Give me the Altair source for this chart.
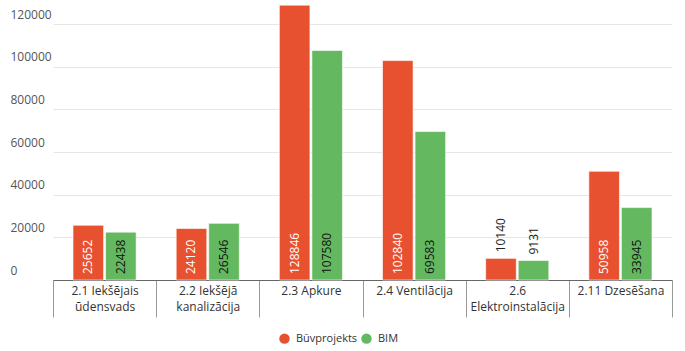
import altair as alt
import pandas as pd

categories = [
    "2.1 Iekšējais\nūdensvads",
    "2.2 Iekšējā\nkanalizācija",
    "2.3 Apkure",
    "2.4 Ventilācija",
    "2.6\nElektroinstalācija",
    "2.11 Dzesēšana",
]
series_names = ["Būvprojekts", "BIM"]
buvprojekts = [25652, 24120, 128846, 102840, 10140, 50958]
bim = [22438, 26546, 107580, 69583, 9131, 33945]
y_ticks = [0, 20000, 40000, 60000, 80000, 100000, 120000]
colors = ["#E8512F", "#64B960"]

rows = []
for c, a, b in zip(categories, buvprojekts, bim):
    rows.append({"cat": c, "series": series_names[0], "value": a})
    rows.append({"cat": c, "series": series_names[1], "value": b})
df = pd.DataFrame(rows)

FONT = "Open Sans"

x_enc = alt.X(
    "cat:N",
    sort=categories,
    title=None,
    scale=alt.Scale(range=[43, 662], paddingInner=0, paddingOuter=0),
    axis=alt.Axis(
        labelExpr="split(datum.label, '\\n')",
        labelAngle=0,
        labelFont=FONT,
        labelFontSize=12,
        labelColor="#333333",
        labelLineHeight=16,
        labelPadding=-32,
        labelBaseline="top",
        tickBand="extent",
        tickSize=37,
        tickColor="#999999",
        tickWidth=1,
        domainColor="#666666",
        domainWidth=1,
        grid=False,
    ),
)
xoff = alt.XOffset(
    "series:N", sort=series_names, scale=alt.Scale(paddingInner=0.06, paddingOuter=0.615)
)
y_scale = alt.Scale(domain=[0, 131250], nice=False)

bars = alt.Chart(df).mark_bar(stroke="white", strokeWidth=1, strokeOpacity=0.6).encode(
    x=x_enc,
    xOffset=xoff,
    y=alt.Y(
        "value:Q",
        scale=y_scale,
        title=None,
        axis=alt.Axis(
            values=y_ticks,
            format="d",
            domain=False,
            ticks=False,
            tickSize=0,
            labelAlign="left",
            labelBaseline="bottom",
            labelPadding=0,
            labelOffset=-3,
            labelFont=FONT,
            labelFontSize=12,
            labelColor="#555555",
            gridColor="#e6e6e6",
            gridWidth=1,
        ),
    ),
    color=alt.Color(
        "series:N",
        sort=series_names,
        scale=alt.Scale(domain=series_names, range=colors),
        legend=alt.Legend(
            title=None,
            orient="none",
            direction="horizontal",
            legendX=269,
            legendY=333,
            symbolType="circle",
            symbolSize=110,
            symbolStrokeWidth=0,
            labelFont=FONT,
            labelFontSize=11,
            labelColor="#333333",
            labelOffset=6,
            columnPadding=3,
            padding=0,
        ),
    ),
)

labels = alt.Chart(df).transform_calculate(
    ly="datum.value < 15000 ? datum.value : 0",
    lc="datum.value < 15000 ? '#222222' : (datum.series == 'BIM' ? '#111111' : '#ffffff')",
).mark_text(angle=270, align="left", baseline="middle", dx=6, font=FONT, fontSize=12).encode(
    x=alt.X("cat:N", sort=categories),
    xOffset=xoff,
    y=alt.Y("ly:Q", scale=y_scale),
    text=alt.Text("value:Q", format="d"),
    color=alt.Color("lc:N", scale=None, legend=None),
)

chart = (
    alt.layer(bars, labels)
    .properties(
        width=662,
        height=280,
        autosize=alt.AutoSizeParams(type="none"),
        padding={"left": 10, "top": 0, "right": 13, "bottom": 71},
    )
    .configure_view(stroke=None)
)

chart.save("out.html", embed_options={"renderer": "svg", "actions": False})
